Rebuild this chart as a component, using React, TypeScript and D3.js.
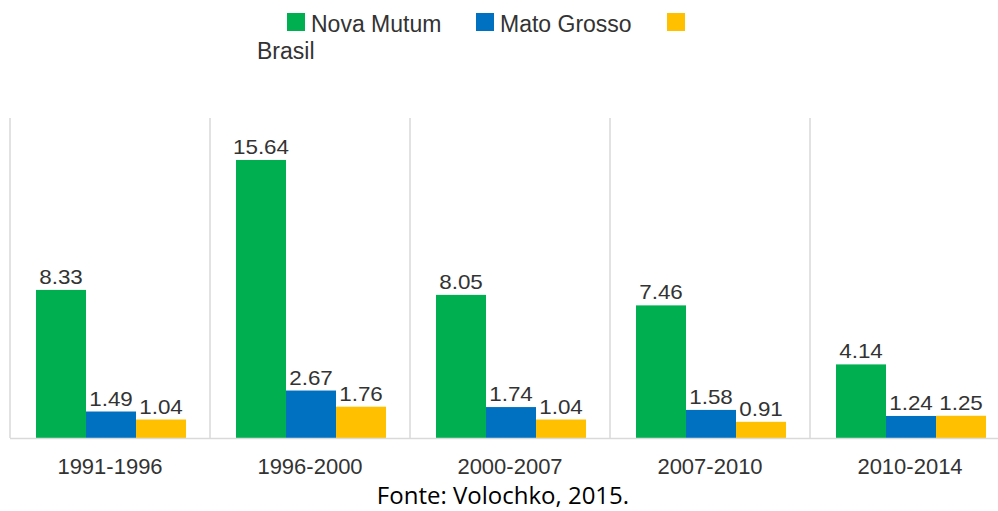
import { useEffect, useRef } from "react";
import * as d3 from "d3";

const periods = ["1991-1996", "1996-2000", "2000-2007", "2007-2010", "2010-2014"];
const seriesNames = ["Nova Mutum", "Mato Grosso", "Brasil"];
const novaMutum = [8.33, 15.64, 8.05, 7.46, 4.14];
const matoGrosso = [1.49, 2.67, 1.74, 1.58, 1.24];
const brasil = [1.04, 1.76, 1.04, 0.91, 1.25];
const colors = ["#00b050", "#0070c0", "#ffc000"];
const sourceNote = "Fonte: Volochko, 2015.";

export default function App() {
    const svgRef = useRef<SVGSVGElement>(null);
    const width = 998;
    const height = 511;

    useEffect(() => {
        const svg = d3.select(svgRef.current);
        svg.selectAll("*").remove();

        const values = [novaMutum, matoGrosso, brasil];
        const rows = periods.map((p, i) => ({
            period: p,
            vals: values.map((s, k) => ({ key: seriesNames[k], v: s[i], k })),
        }));

        const baseY = 438;
        const topY = 118;
        const font = "'Liberation Sans', Arial, sans-serif";

        // each period gets a 200px band, first starts at x=10
        const x0 = d3.scaleBand().domain(periods).range([10, 1010]).padding(0);
        const x1 = d3.scaleBand().domain(seriesNames).range([26, 176]).padding(0);
        const y = d3.scaleLinear().domain([0, 18]).range([baseY, topY]);

        // vertical separators
        svg.append("g")
            .selectAll("line")
            .data(periods)
            .enter()
            .append("line")
            .attr("x1", (d) => x0(d)!)
            .attr("x2", (d) => x0(d)!)
            .attr("y1", topY)
            .attr("y2", baseY)
            .attr("stroke", "#d9d9d9")
            .attr("stroke-width", 1.5);

        const groups = svg.append("g")
            .selectAll("g")
            .data(rows)
            .enter()
            .append("g")
            .attr("transform", (d) => `translate(${x0(d.period)},0)`);

        groups.selectAll("rect")
            .data((d) => d.vals)
            .enter()
            .append("rect")
            .attr("x", (d) => x1(d.key)!)
            .attr("y", (d) => y(d.v))
            .attr("width", x1.bandwidth())
            .attr("height", (d) => baseY - y(d.v))
            .attr("fill", (d) => colors[d.k]);

        // value labels are a bit wider than normal in the source, so stretch them
        groups.selectAll("text")
            .data((d) => d.vals)
            .enter()
            .append("text")
            .attr("transform", (d) =>
                `translate(${x1(d.key)! + x1.bandwidth() / 2},${y(d.v) - 6}) scale(1.12,1)`)
            .attr("text-anchor", "middle")
            .style("font-family", font)
            .style("font-size", "20px")
            .attr("fill", "#333")
            .text((d) => d.v.toFixed(2));

        // baseline
        svg.append("line")
            .attr("x1", 10)
            .attr("x2", width)
            .attr("y1", baseY + 0.5)
            .attr("y2", baseY + 0.5)
            .attr("stroke", "#d9d9d9")
            .attr("stroke-width", 1.5);

        // category labels
        const xAxis = d3.axisBottom(x0).tickSize(0).tickPadding(0);
        const ax = svg.append("g")
            .attr("transform", `translate(0,${baseY})`)
            .call(xAxis);
        ax.select(".domain").remove();
        ax.selectAll("text")
            .attr("y", 36)
            .attr("dy", 0)
            .style("font-family", font)
            .style("font-size", "22px")
            .attr("fill", "#333");

        // legend
        const legendX = [287, 476, 667];
        const legend = svg.append("g");
        seriesNames.forEach((name, k) => {
            legend.append("rect")
                .attr("x", legendX[k])
                .attr("y", 13)
                .attr("width", 18)
                .attr("height", 18)
                .attr("fill", colors[k]);
            legend.append("text")
                .attr("x", k === 2 ? 257 : legendX[k] + 24)
                .attr("y", k === 2 ? 59 : 32)
                .style("font-family", font)
                .style("font-size", "23px")
                .attr("fill", "#333")
                .text(name);
        });

        svg.append("text")
            .attr("x", width / 2 + 4)
            .attr("y", 504)
            .attr("text-anchor", "middle")
            .style("font-family", "'Open Sans', 'Noto Sans', sans-serif")
            .style("font-size", "24px")
            .attr("fill", "#000")
            .text(sourceNote);
    }, []);

    return (
        <svg
            ref={svgRef}
            width={width}
            height={height}
            style={{ position: "absolute", left: 0, top: 0, background: "#fff" }}
        ></svg>
    );
}
